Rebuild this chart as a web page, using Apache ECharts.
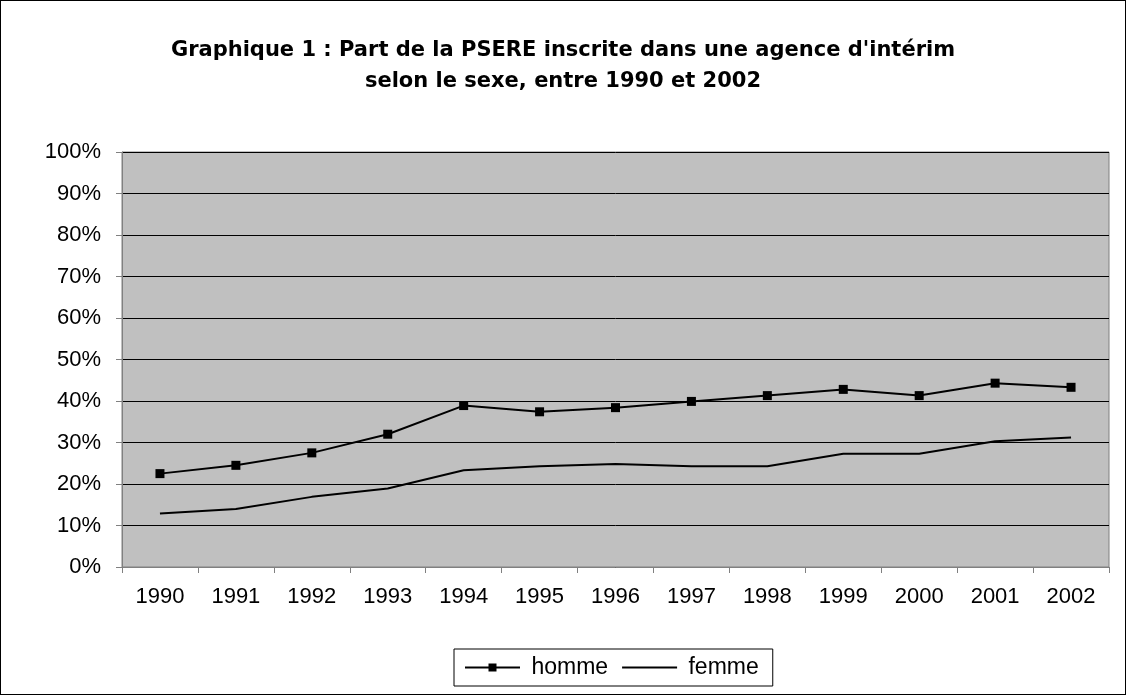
<!DOCTYPE html>
<html><head><meta charset="utf-8">
<script src="https://cdn.jsdelivr.net/npm/echarts@6/dist/echarts.min.js"></script>
<style>html,body{margin:0;padding:0;background:#fff}#c{width:1126px;height:695px;box-sizing:border-box;border:1px solid #000}</style>
</head><body><div id="c"></div>
<script>
const years = ['1990','1991','1992','1993','1994','1995','1996','1997','1998','1999','2000','2001','2002'];
const homme = [22.5,24.5,27.5,32.0,38.9,37.4,38.4,39.9,41.3,42.8,41.3,44.3,43.3];
const femme = [12.9,14.0,16.9,18.9,23.3,24.3,24.8,24.3,24.3,27.3,27.3,30.3,31.2];
const titleText = "Graphique 1 : Part de la PSERE inscrite dans une agence d'intérim\nselon le sexe, entre 1990 et 2002";
const FONT = '"Liberation Sans", Arial, sans-serif';
const TFONT = '"DejaVu Sans", sans-serif';
const chart = echarts.init(document.getElementById('c'), null, {renderer:'canvas'});
chart.setOption({
  animation:false,
  title:{text:titleText,left:'center',top:29,textStyle:{fontFamily:TFONT,fontSize:21,fontWeight:'bold',color:'#000',lineHeight:31}},
  grid:{left:121,top:151,right:16,bottom:127,show:true,backgroundColor:'#C0C0C0',borderColor:'#808080',borderWidth:1},
  legend:{bottom:8,left:453,borderColor:'#000',borderWidth:1,padding:[7,14,7,10],itemWidth:55,itemHeight:10,itemGap:14,
    formatter:function(n){return ' '+n;},
    data:[{name:'homme'},{name:'femme',icon:'path://M0,0H110V4H0Z'}],
    textStyle:{fontFamily:FONT,fontSize:23,color:'#000'}},
  xAxis:{type:'category',data:years,boundaryGap:true,
    axisLine:{lineStyle:{color:'#808080',width:1}},
    axisTick:{show:true,length:6,lineStyle:{color:'#808080'},alignWithLabel:false},
    axisLabel:{fontFamily:FONT,fontSize:22,color:'#000',margin:19}},
  yAxis:{type:'value',min:0,max:100,interval:10,
    axisLine:{show:true,lineStyle:{color:'#808080',width:1}},
    axisTick:{show:true,inside:false,length:6,lineStyle:{color:'#808080'}},
    axisLabel:{fontFamily:FONT,fontSize:22,color:'#000',formatter:'{value}%',margin:21},
    splitLine:{show:true,lineStyle:{color:'#000',width:1}}},
  series:[
    {name:'homme',type:'line',data:homme,symbol:'rect',symbolSize:9,showAllSymbol:true,
      lineStyle:{color:'#000',width:2},itemStyle:{color:'#000'}},
    {name:'femme',type:'line',data:femme,symbol:'none',
      lineStyle:{color:'#000',width:2},itemStyle:{color:'#000'}}
  ]
});
</script></body></html>
